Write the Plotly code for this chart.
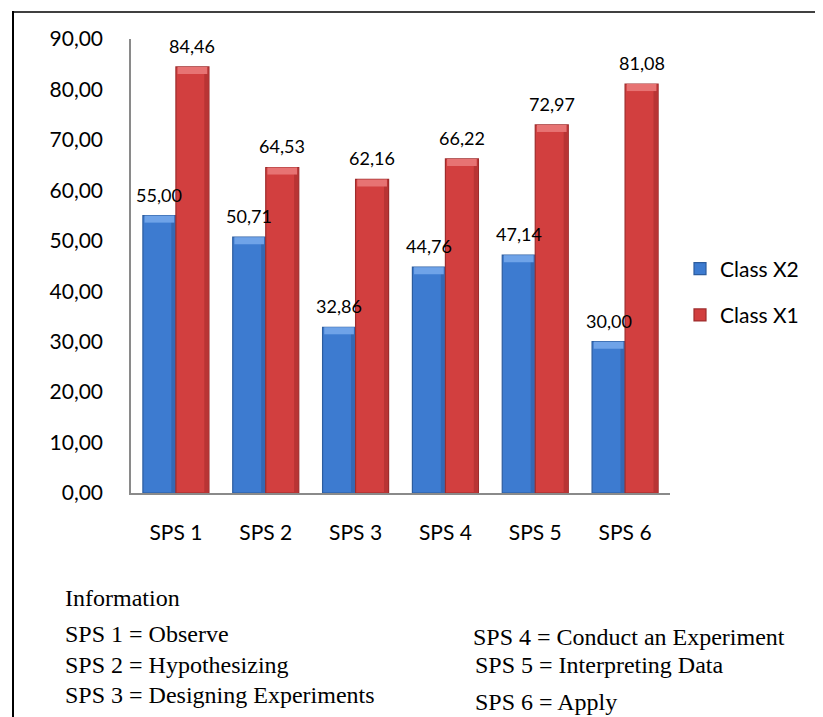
import plotly.graph_objects as go

categories = ["SPS 1", "SPS 2", "SPS 3", "SPS 4", "SPS 5", "SPS 6"]
class_x2 = [55.00, 50.71, 32.86, 44.76, 47.14, 30.00]
class_x1 = [84.46, 64.53, 62.16, 66.22, 72.97, 81.08]
series_names = ["Class X2", "Class X1"]
y_ticks = [0, 10, 20, 30, 40, 50, 60, 70, 80, 90]

info_title = "Information"
info_left = ["SPS 1 = Observe", "SPS 2 = Hypothesizing", "SPS 3 = Designing Experiments"]
info_right = ["SPS 4 = Conduct an Experiment", "SPS 5 = Interpreting Data", "SPS 6 = Apply"]

# page body has an 8px margin; work in window pixel coordinates
OFF = 8
W, H = 823 - OFF, 717 - OFF
L, R, T, B = 131 - OFF, 153, 39 - OFF, 224
PW = W - L - R
PH = H - T - B


def px_x(px):
    return (px - OFF - L) / PW


def px_y(py):
    return (H - B - (py - OFF)) / PH


bargap = 0.265
bw = (1 - bargap) / 2
fill = ["#3d7bd0", "#d23f3f"]
edge = ["#2c5c9e", "#9e2c2c"]
shade = ["#3569b4", "#b83434"]
cap = ["#6fa3e8", "#e77373"]

fig = go.Figure()
xs = list(range(len(categories)))
for k, (name, vals) in enumerate(zip(series_names, [class_x2, class_x1])):
    off = -(1 - bargap) / 2 + k * bw
    fig.add_trace(go.Bar(
        x=xs, y=vals, name=name, width=bw, offset=off,
        marker=dict(color=fill[k], line=dict(color=edge[k], width=1.2)),
        legendgroup=name, hoverinfo="skip",
    ))
    # right-side shading strip
    fig.add_trace(go.Bar(
        x=xs, y=vals, width=bw * 0.12, offset=off + bw * 0.86,
        marker=dict(color=shade[k], line=dict(width=0)),
        showlegend=False, hoverinfo="skip",
    ))
    # top bevel highlight
    fig.add_trace(go.Bar(
        x=xs, y=[1.4] * len(vals), base=[v - 1.4 for v in vals],
        width=bw * 0.9, offset=off + bw * 0.05,
        marker=dict(color=cap[k], line=dict(width=0)),
        showlegend=False, hoverinfo="skip",
    ))
    for i, v in enumerate(vals):
        fig.add_annotation(
            x=i + off + bw / 2, y=v, xref="x", yref="y",
            text=f"{v:.2f}".replace(".", ","), showarrow=False,
            yanchor="middle", yshift=21,
            font=dict(family="Lato", size=18, color="black"),
        )

fig.update_layout(
    width=W, height=H,
    margin=dict(l=L, r=R, t=T, b=B, pad=0),
    paper_bgcolor="white", plot_bgcolor="white",
    barmode="overlay",
    separators=",.",
    showlegend=True,
    legend=dict(
        x=px_x(680), y=px_y(292), xanchor="left", yanchor="middle",
        font=dict(family="Lato", size=21, color="black"),
        tracegroupgap=16, bgcolor="rgba(0,0,0,0)",
    ),
    font=dict(family="Lato", color="black"),
)

fig.update_xaxes(
    range=[-0.5, len(categories) - 0.5],
    tickvals=xs, ticktext=categories,
    showline=True, linecolor="#8a8a8a", linewidth=2,
    ticks="outside", ticklen=20, tickcolor="rgba(0,0,0,0)",
    tickfont=dict(family="Lato", size=21, color="black"),
    showgrid=False, zeroline=False,
)
fig.update_yaxes(
    range=[0, 90], tickvals=y_ticks, tickformat=".2f",
    showline=True, linecolor="#8a8a8a", linewidth=1.5,
    ticks="outside", ticklen=22, tickcolor="rgba(0,0,0,0)",
    tickfont=dict(family="Lato", size=21, color="black"),
    showgrid=False, zeroline=False,
)

# frame lines
fig.add_shape(type="line", xref="paper", yref="paper",
              x0=px_x(13), x1=px_x(823 + 2), y0=px_y(12), y1=px_y(12),
              line=dict(color="black", width=1.5))
fig.add_shape(type="line", xref="paper", yref="paper",
              x0=px_x(13), x1=px_x(13), y0=px_y(11), y1=px_y(717 + 2),
              line=dict(color="black", width=2))

serif = dict(family="Liberation Serif", size=24, color="black")
fig.add_annotation(text=info_title, xref="paper", yref="paper",
                   x=px_x(63), y=px_y(598), xanchor="left", yanchor="middle",
                   showarrow=False, font=serif)
for txt, py in zip(info_left, [634, 665, 695]):
    fig.add_annotation(text=txt, xref="paper", yref="paper",
                       x=px_x(63), y=px_y(py), xanchor="left", yanchor="middle",
                       showarrow=False, font=serif)
for txt, px, py in zip(info_right, [471, 473, 473], [637, 665, 702]):
    fig.add_annotation(text=txt, xref="paper", yref="paper",
                       x=px_x(px), y=px_y(py), xanchor="left", yanchor="middle",
                       showarrow=False, font=serif)

fig.write_html("out.html")
